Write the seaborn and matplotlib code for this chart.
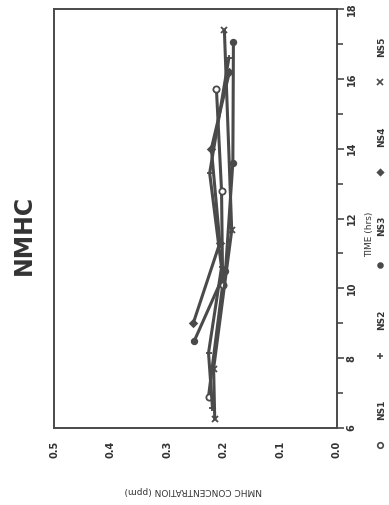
import numpy as np
import pandas as pd
import matplotlib
matplotlib.use("Agg")
import matplotlib.pyplot as plt
from matplotlib.lines import Line2D
from matplotlib.ticker import FormatStrFormatter, MultipleLocator
import seaborn as sns

# Sampling stations and their plot symbols
stations = ["NS1", "NS2", "NS3", "NS4", "NS5"]
station_markers = ["o", "+", ".", "D", "x"]

# Sampling times (hrs) and NMHC concentrations (ppm) per station
ns1_time = [6.9, 10.1, 12.8, 15.7]
ns1_conc = [0.227, 0.202, 0.204, 0.213]
ns2_time = [6.57, 8.15, 10.6, 13.3, 16.6]
ns2_conc = [0.220, 0.227, 0.204, 0.225, 0.191]
ns3_time = [8.5, 10.5, 13.6, 17.06]
ns3_conc = [0.252, 0.197, 0.184, 0.183]
ns4_time = [9.0, 11.3, 14.0, 16.2]
ns4_conc = [0.254, 0.207, 0.222, 0.190]
ns5_time = [6.25, 7.7, 11.66, 17.4]
ns5_conc = [0.216, 0.218, 0.186, 0.199]

time_ticks = [6, 8, 10, 12, 14, 16, 18]
conc_ticks = [0.0, 0.1, 0.2, 0.3, 0.4, 0.5]

frames = []
for name, t, c in zip(stations,
                      [ns1_time, ns2_time, ns3_time, ns4_time, ns5_time],
                      [ns1_conc, ns2_conc, ns3_conc, ns4_conc, ns5_conc]):
    frames.append(pd.DataFrame({"station": name, "time": t, "conc": c}))
df = pd.concat(frames, ignore_index=True)

sns.set_style("white")
plt.rcParams["font.family"] = ["DejaVu Sans"]

INK = "#4a4a4a"
W, H = 389, 505
fig = plt.figure(figsize=(W / 100, H / 100), dpi=100)
L, R, T, B = 54, 337, 9, 428
ax = fig.add_axes([L / W, 1 - B / H, (R - L) / W, (B - T) / H])

for name, mk in zip(stations, station_markers):
    sub = df[df["station"] == name]
    kw = dict(markersize=4.5, markeredgewidth=1.3, markeredgecolor=INK)
    if mk == "o":
        kw["markerfacecolor"] = "white"
    elif mk == ".":
        kw["markersize"] = 8
        kw["markerfacecolor"] = INK
    elif mk == "D":
        kw["markersize"] = 3.5
        kw["markerfacecolor"] = INK
    sns.lineplot(data=sub, x="conc", y="time", orient="y", sort=True,
                 errorbar=None, color=INK, linewidth=2.2, marker=mk,
                 ax=ax, **kw)

# Rotated page: concentration runs right-to-left, time bottom-to-top
ax.set_xlim(0.5, 0.0)
ax.set_ylim(6, 18)
ax.set_xticks(conc_ticks)
ax.xaxis.set_major_formatter(FormatStrFormatter("%.1f"))
ax.set_yticks(time_ticks)
ax.yaxis.set_minor_locator(MultipleLocator(1))
ax.yaxis.tick_right()
ax.yaxis.set_label_position("right")

for s in ax.spines.values():
    s.set_color(INK)
    s.set_linewidth(1.4)

ax.tick_params(axis="both", which="both", direction="out", colors=INK,
               width=1.2, labelcolor="#333333", labelsize=7)
ax.tick_params(axis="x", which="major", length=5, pad=4)
ax.tick_params(axis="y", which="major", length=5, pad=2)
ax.tick_params(axis="y", which="minor", length=4)
ax.tick_params(left=False, right=True, labelleft=False, labelright=True)

for lab in ax.get_xticklabels():
    lab.set_rotation(90)
    lab.set_fontweight("bold")
for lab in ax.get_yticklabels():
    lab.set_rotation(90)
    lab.set_va("center")
    lab.set_fontweight("bold")

ax.set_xlabel("NMHC CONCENTRATION (ppm)", fontsize=6.5, color="#333333",
              rotation=180)
ax.xaxis.set_label_coords((193 - L) / (R - L), (B - 491) / (B - T))
ax.xaxis.label.set_va("center")
ax.set_ylabel("TIME (hrs)", fontsize=6.5, color="#333333", rotation=90)
ax.yaxis.set_label_coords((370 - L) / (R - L), (B - 234) / (B - T))
ax.yaxis.label.set_va("center")
ax.yaxis.label.set_ha("center")

fig.text(24 / W, 1 - 235 / H, "NMHC", rotation=90, fontsize=17,
         fontweight="bold", color="#333333", ha="center", va="center")

# Key along the right edge, reading bottom-to-top
key_marker_y = [445, 356, 265, 172, 82]
key_text_y = [410, 320, 226, 137, 47]
for name, mk, my, ty in zip(stations, station_markers, key_marker_y, key_text_y):
    kw = dict(markersize=4, markeredgewidth=1.2, markeredgecolor=INK,
              markerfacecolor=INK)
    if mk == "o":
        kw["markerfacecolor"] = "white"
    elif mk == ".":
        kw["markersize"] = 7
    elif mk == "D":
        kw["markersize"] = 3
    fig.add_artist(Line2D([380 / W], [1 - my / H], marker=mk, linestyle="none",
                          transform=fig.transFigure, **kw))
    fig.text(382 / W, 1 - ty / H, name, rotation=90, fontsize=6.5,
             fontweight="bold", color="#333333", ha="center", va="center")

fig.savefig("out.png", dpi=100, facecolor="white")
